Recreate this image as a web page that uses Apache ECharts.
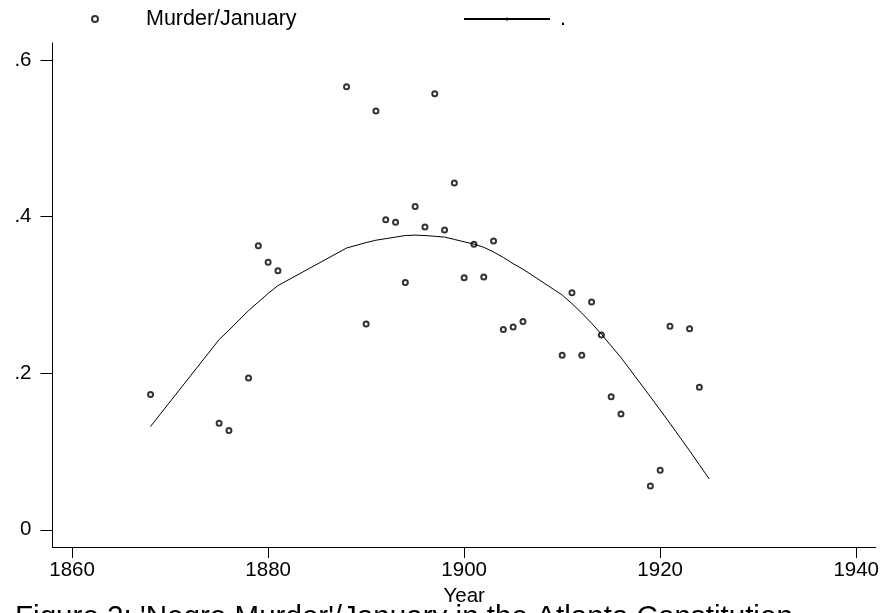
<!DOCTYPE html>
<html>
<head>
<meta charset="utf-8">
<script src="https://cdn.jsdelivr.net/npm/echarts@6/dist/echarts.min.js"></script>
<style>
  html, body { margin: 0; padding: 0; background: #fff; }
  #chart { width: 882px; height: 613px; }
</style>
</head>
<body>
<div id="chart"></div>
<script>
// observed points (year, murder/january share)
const years = [1868, 1875, 1876, 1878, 1879, 1880, 1881, 1888, 1890, 1891, 1892, 1893, 1894, 1895, 1896, 1897, 1898, 1899,
  1900, 1901, 1902, 1903, 1904, 1905, 1906, 1910, 1911, 1912, 1913, 1914, 1915, 1916, 1919, 1920, 1921, 1923, 1924];
const murder = [0.173, 0.136, 0.127, 0.194, 0.363, 0.342, 0.331, 0.566, 0.263, 0.535, 0.396, 0.393, 0.316, 0.413, 0.387, 0.557, 0.383, 0.443,
  0.322, 0.365, 0.323, 0.369, 0.256, 0.259, 0.266, 0.223, 0.303, 0.223, 0.291, 0.249, 0.170, 0.148, 0.056, 0.076, 0.260, 0.257, 0.182];

// fitted curve
const fitYears = [1868, 1875, 1876, 1878, 1879, 1880, 1881, 1888, 1890, 1891, 1892, 1893, 1894, 1895, 1896, 1897, 1898, 1899,
  1900, 1901, 1902, 1903, 1904, 1905, 1906, 1910, 1911, 1912, 1913, 1914, 1915, 1916, 1919, 1920, 1921, 1923, 1924, 1925];
const fit = [0.132, 0.243, 0.255, 0.280, 0.291, 0.302, 0.312, 0.360, 0.367, 0.370, 0.372, 0.374, 0.376, 0.3765, 0.376, 0.375, 0.374, 0.371,
  0.368, 0.365, 0.361, 0.355, 0.348, 0.340, 0.333, 0.300, 0.289, 0.277, 0.264, 0.250, 0.235, 0.220, 0.170, 0.153, 0.136, 0.101, 0.083, 0.065];

const xTicks = [1860, 1880, 1900, 1920, 1940];
const yTicks = [0, 0.2, 0.4, 0.6];
const caption = "Figure 2: 'Negro Murder'/January in the Atlanta Constitution";

const font = "'Liberation Sans', Arial, sans-serif";
const ink = "#000";

const chart = echarts.init(document.getElementById("chart"), null, { renderer: "canvas" });

chart.setOption({
  animation: false,
  backgroundColor: "#fff",
  textStyle: { fontFamily: font, color: ink },
  title: {
    text: caption,
    left: 15,
    top: 603,
    padding: 0,
    textStyle: { fontSize: 29.6, fontWeight: "normal", color: ink, fontFamily: font },
  },
  legend: [
    {
      data: ["Murder/January"],
      left: 91,
      top: 8,
      padding: 0,
      itemWidth: 6,
      itemHeight: 6,
      selectedMode: false,
      textStyle: { fontSize: 21.5, color: ink, fontFamily: font, padding: [0, 0, 0, 43] },
    },
    {
      data: ["."],
      left: 463,
      top: 8,
      padding: 0,
      itemWidth: 86,
      itemHeight: 4,
      selectedMode: false,
      textStyle: { fontSize: 21.5, color: ink, fontFamily: font, padding: [0, 0, 0, 5] },
    },
  ],
  grid: { left: 52.5, right: 5, top: 43, bottom: 66, containLabel: false },
  xAxis: {
    type: "value",
    min: 1858,
    max: 1942,
    name: "Year",
    nameLocation: "middle",
    nameGap: 30,
    nameTextStyle: { fontSize: 20.5, color: ink, fontFamily: font },
    axisLine: { onZero: false, lineStyle: { color: ink, width: 1 } },
    axisTick: { customValues: xTicks, length: 11, lineStyle: { color: ink, width: 1 } },
    axisLabel: {
      customValues: xTicks,
      margin: 13,
      fontSize: 20.5,
      color: ink,
      fontFamily: font,
      formatter: (v) => String(v),
    },
    splitLine: { show: false },
  },
  yAxis: {
    type: "value",
    min: -0.022,
    max: 0.622,
    axisLine: { show: true, onZero: false, lineStyle: { color: ink, width: 1 } },
    axisTick: { show: true, customValues: yTicks, length: 12, lineStyle: { color: ink, width: 1 } },
    axisLabel: {
      customValues: yTicks,
      margin: 21,
      fontSize: 20.5,
      color: ink,
      fontFamily: font,
      formatter: (v) => (v === 0 ? "0" : String(+v.toFixed(1)).replace(/^0/, "")),
    },
    splitLine: { show: false },
  },
  series: [
    {
      name: "Murder/January",
      type: "scatter",
      symbol: "emptyCircle",
      symbolSize: 5,
      data: years.map((y, i) => [y, murder[i]]),
      itemStyle: { color: ink, borderColor: ink, borderWidth: 1 },
    },
    {
      name: ".",
      type: "line",
      symbol: "circle",
      symbolSize: 2,
      showSymbol: false,
      data: fitYears.map((y, i) => [y, fit[i]]),
      lineStyle: { color: ink, width: 1 },
      itemStyle: { color: ink },
    },
  ],
});
</script>
</body>
</html>
